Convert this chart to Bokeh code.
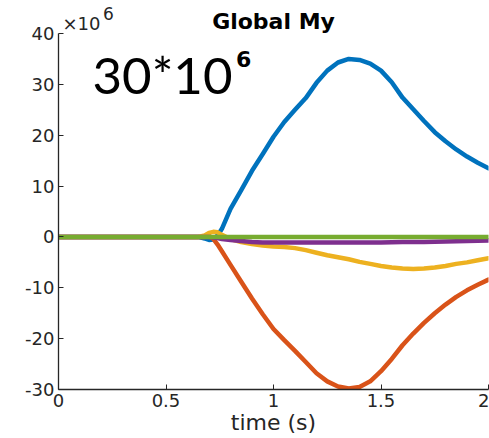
from bokeh.plotting import figure
from bokeh.models import Label, FixedTicker
from bokeh.embed import file_html
from bokeh.resources import INLINE

# time (s)
t = [0.0, 0.6, 0.65, 0.68, 0.70, 0.72, 0.74, 0.76, 0.8, 0.85, 0.9, 0.95, 1.0,
     1.05, 1.1, 1.15, 1.2, 1.25, 1.3, 1.35, 1.4, 1.45, 1.5, 1.55, 1.6, 1.65,
     1.7, 1.75, 1.8, 1.85, 1.9, 1.95, 2.0]
# Global My (x10^6)
s_blue = [0, 0, 0, -0.3, -0.6, -0.5, 0.3, 1.6, 5.5, 9.2, 13.0, 16.3, 19.7,
          22.6, 25.0, 27.3, 30.3, 32.7, 34.3, 35.0, 34.8, 34.1, 32.7, 30.4, 27.4, 25.1,
          22.8, 20.6, 18.8, 17.2, 15.8, 14.6, 13.5]
s_orange = [0, 0, 0, 0, 0.2, -0.4, -1.5, -2.8, -5.5, -8.8, -12.1, -15.2, -18.1,
            -20.3, -22.4, -24.6, -26.8, -28.4, -29.4, -29.8, -29.5, -28.4, -26.4, -24.0, -21.3, -19.0,
            -16.9, -15.0, -13.3, -11.8, -10.5, -9.4, -8.4]
s_yellow = [0, 0, 0, 0.3, 0.8, 1.0, 0.9, 0.4, -0.4, -1.0, -1.4, -1.7, -1.9,
            -2.0, -2.2, -2.6, -3.1, -3.6, -4.0, -4.4, -4.9, -5.3, -5.7, -6.0, -6.2, -6.3,
            -6.2, -6.0, -5.7, -5.3, -5.0, -4.6, -4.2]
s_purple = [0, 0, 0, 0, 0, -0.1, -0.2, -0.4, -0.6, -0.8, -1.0, -1.1, -1.1,
            -1.1, -1.1, -1.1, -1.1, -1.1, -1.1, -1.1, -1.1, -1.1, -1.1, -1.05, -1.0, -1.0,
            -1.0, -0.95, -0.9, -0.85, -0.8, -0.75, -0.7]
s_green = [0] * len(t)

series = [s_blue, s_orange, s_yellow, s_purple, s_green]
colors = ["#0072BD", "#D95319", "#EDB120", "#7E2F8E", "#77AC30"]

x_ticks = [0, 0.5, 1, 1.5, 2]
x_tick_labels = {0: "0", 0.5: "0.5", 1: "1", 1.5: "1.5", 2: "2"}
y_ticks = [-30, -20, -10, 0, 10, 20, 30, 40]
y_tick_labels = {-30: "-30", -20: "-20", -10: "-10", 0: "0", 10: "10", 20: "20", 30: "30", 40: "40"}
y_min, y_max = -30, 40

p = figure(width=489, height=438, output_backend="svg", toolbar_location=None,
           x_range=(0, 2), y_range=(y_min, 46.49),
           min_border_left=58, min_border_right=1, min_border_top=0, min_border_bottom=49)
p.outline_line_color = None
p.xgrid.visible = False
p.ygrid.visible = False
p.background_fill_color = "white"

for s, c in zip(series, colors):
    p.line(t, s, line_color=c, line_width=4.5, line_join="round", line_cap="round")

ax_col = "#262626"
for ax in (p.xaxis, p.yaxis):
    ax.axis_line_color = ax_col
    ax.axis_line_width = 1.3
    ax.major_tick_line_color = ax_col
    ax.major_tick_in = 5
    ax.major_tick_out = 0
    ax.minor_tick_line_color = None
    ax.major_label_text_font = "DejaVu Sans"
    ax.major_label_text_font_size = "18px"
    ax.major_label_text_color = ax_col
    ax.major_label_standoff = 4
p.yaxis.bounds = (y_min, y_max)
p.xaxis.ticker = FixedTicker(ticks=x_ticks)
p.xaxis.major_label_overrides = x_tick_labels
p.yaxis.ticker = FixedTicker(ticks=y_ticks)
p.yaxis.major_label_overrides = y_tick_labels
p.xaxis.axis_label = "time (s)"
p.xaxis.axis_label_text_font = "DejaVu Sans"
p.xaxis.axis_label_text_font_style = "normal"
p.xaxis.axis_label_text_font_size = "22px"
p.xaxis.axis_label_text_color = ax_col
p.xaxis.axis_label_standoff = 0

def lab(x, y, text, size, font="DejaVu Sans", style="normal", align="left", color="#000000"):
    p.add_layout(Label(x=x, y=y, text=text, text_font=font, text_font_size=size,
                       text_font_style=style, text_align=align, text_color=color,
                       text_baseline="alphabetic"))

lab(1.0, 42.4, "Global My", "22px", style="bold", align="center")
lab(0.0186, 42.0, "×10", "18px", color=ax_col)
lab(0.207, 43.9, "6", "17px", color=ax_col)
lab(0.158, 32.0, "30*10", "51px", font="Lato")
lab(0.826, 34.9, "6", "22px", font="DejaVu Sans", style="bold")

open("out.html", "w").write(file_html(p, INLINE))
